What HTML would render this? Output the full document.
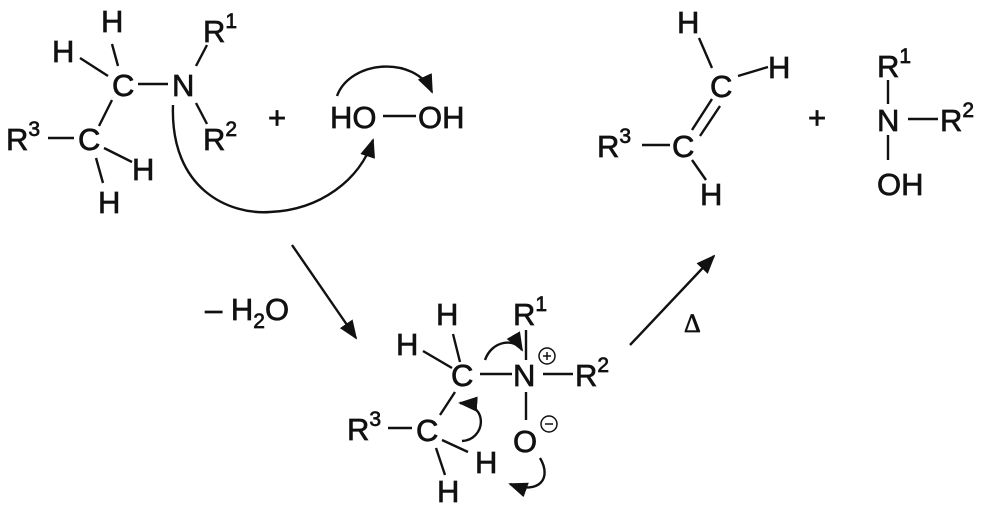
<!DOCTYPE html>
<html><head><style>body{margin:0;background:#fff}svg{display:block}text{font-family:"Liberation Sans",sans-serif;font-size:31px;fill:#111;stroke:#111;stroke-width:0.7px}.s{font-size:21px}</style></head><body>
<svg width="986" height="512" viewBox="0 0 986 512" xmlns="http://www.w3.org/2000/svg">
<defs><marker id="a" viewBox="0 0 10 10" refX="9" refY="5" markerWidth="8" markerHeight="8" orient="auto"><path d="M0,1 L10,5 L0,9 z" fill="#111"/></marker></defs>
<g stroke="#111" stroke-width="2.4" fill="none">
<line x1="112" y1="44" x2="118" y2="66"/><line x1="80" y1="58" x2="108" y2="76"/>
<line x1="138" y1="84" x2="168" y2="84"/><line x1="196" y1="66" x2="207" y2="45"/>
<line x1="196" y1="103" x2="207" y2="124"/><line x1="112" y1="100" x2="99" y2="126"/>
<line x1="48" y1="138" x2="74" y2="138"/><line x1="104" y1="148" x2="132" y2="162"/>
<line x1="96" y1="158" x2="103" y2="183"/>
<line x1="383" y1="116" x2="416" y2="116"/>
<path d="M173,105 C170,190 230,215 270,212 C320,210 360,180 373,140" marker-end="url(#a)"/>
<path d="M337,96 C350,60 415,55 432,92" marker-end="url(#a)"/>
<line x1="292" y1="245" x2="356" y2="338" marker-end="url(#a)"/>
<line x1="630" y1="345" x2="714" y2="256" marker-end="url(#a)"/>
<line x1="699" y1="38" x2="712" y2="68"/><line x1="738" y1="76" x2="768" y2="67"/>
<line x1="712" y1="99" x2="692" y2="130"/><line x1="720" y1="106" x2="700" y2="136"/>
<line x1="642" y1="145" x2="670" y2="145"/><line x1="692" y1="160" x2="706" y2="180"/>
<line x1="888" y1="80" x2="888" y2="104"/><line x1="908" y1="119" x2="938" y2="119"/>
<line x1="888" y1="135" x2="888" y2="160"/>
<line x1="453" y1="334" x2="460" y2="362"/><line x1="423" y1="351" x2="452" y2="368"/>
<line x1="480" y1="374" x2="512" y2="374"/><line x1="526" y1="330" x2="526" y2="360"/>
<line x1="543" y1="374" x2="573" y2="374"/><line x1="526" y1="392" x2="526" y2="420"/>
<line x1="455" y1="392" x2="440" y2="415"/><line x1="388" y1="428" x2="412" y2="428"/>
<line x1="442" y1="440" x2="468" y2="452"/><line x1="436" y1="448" x2="445" y2="475"/>
<path d="M485,360 C492,340 515,338 522,350" marker-end="url(#a)"/>
<path d="M462,441 C485,440 490,405 460,403" marker-end="url(#a)"/>
<path d="M540,458 C552,478 540,495 510,484" marker-end="url(#a)"/>
<circle cx="547" cy="356" r="8" stroke-width="1.5"/><line x1="543" y1="356" x2="551" y2="356" stroke-width="1.5"/><line x1="547" y1="352" x2="547" y2="360" stroke-width="1.5"/>
<circle cx="549" cy="424" r="8" stroke-width="1.5"/><line x1="545" y1="424" x2="553" y2="424" stroke-width="1.5"/>
</g>
<text x="101" y="32">H</text><text x="52" y="62">H</text><text x="112" y="96">C</text><text x="172" y="96">N</text>
<text x="203" y="42">R<tspan class="s" dy="-14">1</tspan></text>
<text x="203" y="150">R<tspan class="s" dy="-14">2</tspan></text>
<text x="6" y="150">R<tspan class="s" dy="-14">3</tspan></text>
<text x="78" y="150">C</text><text x="132" y="180">H</text><text x="98" y="213">H</text>
<text x="268" y="128">+</text><text x="330" y="128">HO</text><text x="418" y="128">OH</text>
<text x="205" y="320">– H<tspan class="s" dy="8">2</tspan><tspan dy="-8">O</tspan></text>
<text x="684" y="332" style="font-family:'Liberation Serif',serif;font-size:26px">Δ</text>
<text x="677" y="33">H</text><text x="710" y="97">C</text><text x="768" y="78">H</text>
<text x="597" y="157">R<tspan class="s" dy="-14">3</tspan></text><text x="672" y="157">C</text>
<text x="700" y="205">H</text>
<text x="808" y="128">+</text>
<text x="877" y="77">R<tspan class="s" dy="-14">1</tspan></text>
<text x="877" y="131">N</text><text x="940" y="131">R<tspan class="s" dy="-14">2</tspan></text>
<text x="877" y="195">OH</text>
<text x="436" y="325">H</text><text x="396" y="355">H</text><text x="451" y="386">C</text><text x="513" y="386">N</text>
<text x="513" y="325">R<tspan class="s" dy="-14">1</tspan></text>
<text x="575" y="386">R<tspan class="s" dy="-14">2</tspan></text>
<text x="347" y="440">R<tspan class="s" dy="-14">3</tspan></text><text x="416" y="441">C</text>
<text x="513" y="452">O</text><text x="475" y="473">H</text><text x="437" y="502">H</text>
</svg>
</body></html>
